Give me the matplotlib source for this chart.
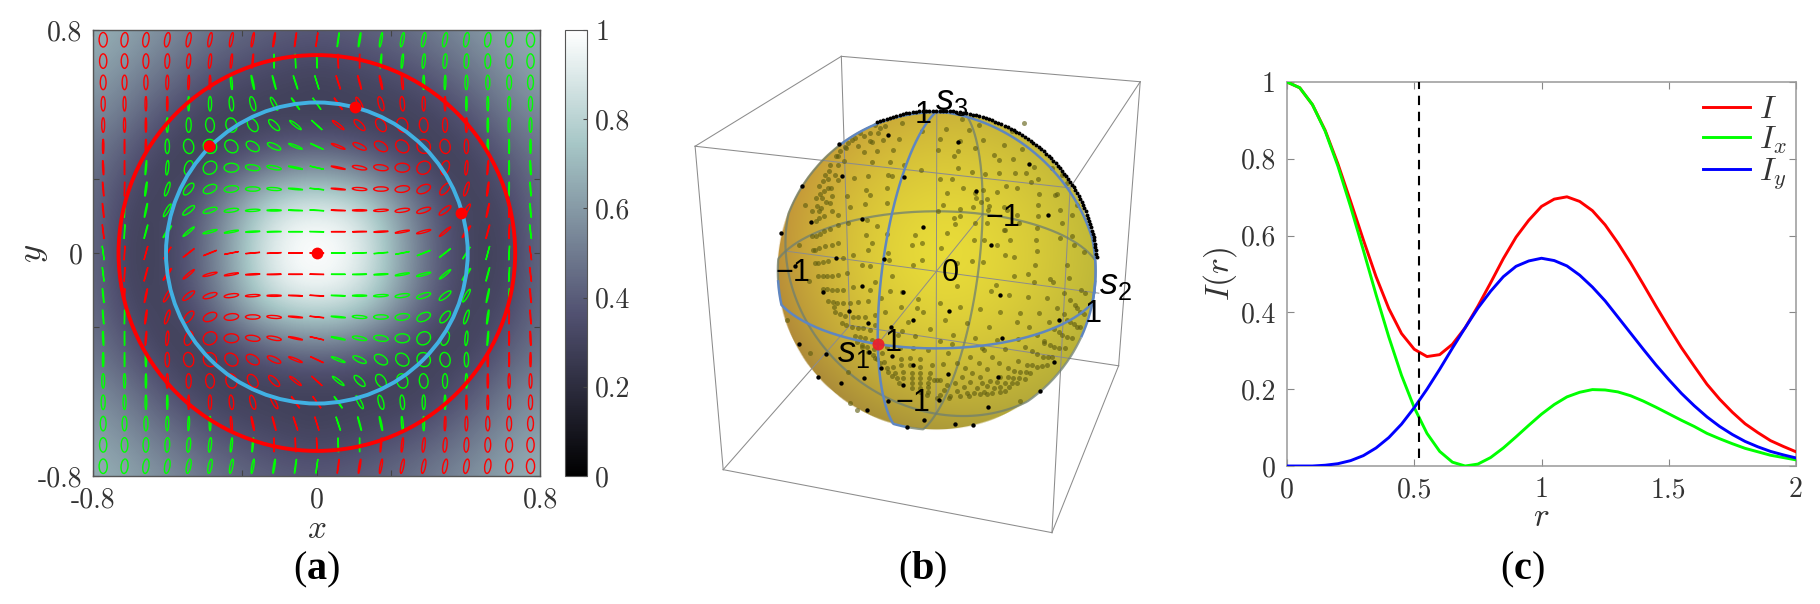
import numpy as np
import matplotlib
matplotlib.use("Agg")
import matplotlib.pyplot as plt
from matplotlib.patches import Ellipse, Circle

# ---------- data ----------
GRID = np.linspace(-0.765, 0.765, 21)
HEAT_QUADRANT = [
 [1.00,.97,.85,.64,.46,.33,.29,.32,.44],
 [ .97,.94,.82,.63,.45,.33,.29,.33,.44],
 [ .82,.79,.70,.55,.40,.31,.30,.35,.45],
 [ .58,.56,.49,.40,.32,.29,.32,.39,.47],
 [ .38,.37,.34,.31,.29,.31,.36,.44,.50],
 [ .29,.29,.29,.29,.31,.35,.42,.50,.55],
 [ .29,.30,.31,.33,.36,.42,.48,.55,.60],
 [ .33,.34,.36,.39,.43,.48,.54,.60,.64],
 [ .39,.40,.42,.45,.49,.54,.59,.64,.67],
]
TILT = [
 [ 82, 82, 81, 80, 79, 79, 79, 80, 82, 84, 90],
 [-87,-88, 90, 85, 84, 84, 85, 87, 89, 90, 90],
 [-73,-72,-75,-78,-85, 90, 88, 89, 90, 90, 90],
 [-55,-55,-62,-75,-85, 90, 90, 90, 90, 90, 90],
 [-42,-38,-45,-58,-75,-85, 90, 90, 90, 90, 90],
 [-25,-22,-25,-32,-42,-60,-80, 90, 90, 90,-90],
 [-13,-12,-11, -8,  0, 38, 72, 85, 85, 90,-87],
 [ -6, -5, -4,  0,  7, 25, 50, 72, 82, 89,-85],
 [ -3, -2,  0,  3,  8, 18, 38, 60, 78, 88,-84],
 [ -1,  0,  1,  3, 10, 15, 40, 55, 75, 87,-83],
 [  0,  1,  3,  5, 11, 22, 38, 58, 75, 87,-82],
]
RATIO = [
 [.02,.05,.10,.14,.20,.25,.30,.36,.42,.48,.56],
 [.02,.02,.02,.08,.13,.20,.27,.33,.40,.46,.50],
 [.02,.04,.06,.10,.12,.12,.12,.20,.28,.33,.40],
 [.02,.06,.25,.35,.30,.22,.12,.10,.12,.20,.28],
 [.02,.18,.40,.62,.75,.60,.35,.15,.10,.15,.20],
 [.02,.15,.35,.60,.80,.90,.70,.30,.10,.05,.10],
 [.02,.10,.25,.40,.62,.85,.55,.20,.08,.04,.08],
 [.02,.08,.20,.30,.45,.55,.45,.25,.10,.03,.05],
 [.02,.05,.10,.15,.25,.32,.32,.22,.08,.03,.05],
 [.02,.02,.05,.08,.12,.15,.15,.12,.05,.02,.03],
 [.01,.01,.01,.02,.02,.03,.03,.03,.02,.01,.01],
]
COLOURS = [
 "rrrrrrrrrrrgggggggggg",
 "rrrrrrrrgggrrgggggggg",
 "rrrrrrgggggrrrrgggggg",
 "rrrrgggggggrrrrrrgggg",
 "rrrggggggggrrrrrrrggg",
 "rrrggggggggrrrrrrrggg",
 "rrgggggggggrrrrrrrrgg",
 "rrgggggggggrrrrrrrrgg",
 "rggggggggggrrrrrrrrrg",
 "rggggggggggrrrrrrrrrg",
 "grrrrrrrrrrgggggggggr",
 "grrrrrrrrrrgggggggggr",
 "grrrrrrrrrrgggggggggr",
 "ggrrrrrrrrrggggggggrr",
 "ggrrrrrrrrrggggggggrr",
 "gggrrrrrrrrgggggggrrr",
 "gggrrrrrrrrgggggggrrr",
 "ggggrrrrrrrggggggrrrr",
 "ggggggrrrrrgggggrrrrr",
 "ggggggggrrrggrrrrrrrr",
 "gggggggggggrrrrrrrrrr",
]
MARK_X = [0.0, 0.135, 0.517, -0.385]
MARK_Y = [0.0, 0.524, 0.142, 0.383]
RADIUS_BLUE = 0.54
RADIUS_RED = 0.71

R_VALUES = np.arange(41) * 0.05
I_X = [1.000,.985,.941,.872,.781,.675,.562,.446,.336,.236,.152,.085,.038,.010,.000,.005,.022,.047,.076,.106,
       .135,.160,.180,.192,.199,.198,.193,.183,.169,.153,.136,.119,.103,.085,.071,.058,.046,.037,.028,.022,.016]
I_Y = [.000,.000,.000,.002,.006,.014,.027,.047,.074,.109,.152,.200,.252,.307,.360,.411,.455,.493,.520,.534,
       .541,.535,.521,.497,.466,.430,.388,.346,.304,.263,.225,.189,.157,.128,.103,.082,.064,.050,.038,.029,.021]
I_TOTAL = [1.000,.985,.941,.874,.787,.689,.589,.493,.410,.345,.304,.285,.290,.317,.360,.416,.477,.540,.596,.640,
           .676,.695,.701,.689,.665,.628,.581,.529,.473,.416,.361,.308,.260,.213,.174,.140,.110,.087,.066,.051,.037]
DASHED_R = 0.52

# Poincare-sphere dots as read from four enlarged views of the sphere (units: 1/3 reference pixel
# measured from each view's corner). "DIM" dots are seen through the sphere, "DARK" dots are on its near side.
VIEW_CORNERS = [(775, 108), (937, 108), (775, 270), (937, 270)]
DIM_DOTS = [
 [(300,50),(315,60),(330,55),(380,45),(440,70),(285,75),(310,75),(325,95),(372,93),(255,75),(268,85),(240,90),
  (230,95),(285,100),(292,103),(355,125),(218,105),(210,118),(250,115),(305,128),(195,130),(212,120),(268,133),
  (182,145),(190,145),(345,162),(290,163),(208,160),(165,170),(190,170),(438,185),(388,170),(163,190),(150,200),
  (180,200),(280,203),(340,202),(350,203),(237,210),(145,218),(160,212),(190,215),(133,235),(160,240),(168,240),
  (335,240),(272,245),(284,260),(148,250),(135,258),(122,270),(140,270),(172,265),(215,265),(90,290),(335,285),
  (270,288),(165,285),(152,283),(125,295),(138,300),(225,298),(112,310),(133,310),(172,310),(148,325),(133,330),
  (122,340),(190,322),(275,335),(220,345),(190,352),(165,362),(148,370),(134,377),(122,385),(112,385),(272,380),
  (335,378),(420,380),(305,355),(290,405),(190,405),(170,410),(150,415),(132,420),(120,425),(115,427),(72,410),
  (235,440),(340,435),(410,410),(280,425),(205,450),(160,460),(145,462),(130,465),(120,465),(262,470),(342,455),
  (440,455),(415,470),(285,475),(440,405)],
 [(27,62),(8,92),(70,100),(62,128),(50,143),(2,127),(115,120),(138,97),(97,65),(125,50),(75,33),(202,110),(255,122),
  (185,157),(170,140),(228,153),(290,178),(62,180),(105,193),(145,197),(185,195),(235,195),(268,195),(283,222),
  (303,213),(10,213),(45,213),(78,240),(138,245),(180,252),(208,233),(240,240),(30,255),(115,255),(118,270),
  (150,272),(132,283),(155,295),(153,305),(108,298),(70,303),(18,290),(2,310),(305,258),(355,260),(360,258),
  (303,292),(370,305),(303,325),(50,330),(70,325),(200,298),(210,305),(240,322),(205,365),(200,365),(245,345),
  (150,345),(115,345),(55,348),(375,345),(300,360),(370,390),(405,320),(30,375),(110,397),(142,397),(180,410),
  (218,397),(298,395),(410,410),(440,432),(300,428),(232,448),(203,440),(138,462),(105,458),(12,420),(60,465),
  (295,472),(390,470),(405,385),(390,225),(225,70),(262,45),(345,180),(375,200),(420,290)],
 [(130,17),(145,17),(155,17),(170,17),(190,15),(215,10),(102,33),(350,17),(300,37),(145,57),(155,57),(170,60),
  (185,60),(205,60),(235,50),(345,63),(285,60),(160,92),(173,95),(187,98),(205,100),(225,98),(250,97),(280,92),
  (318,85),(380,67),(428,87),(425,113),(178,112),(180,127),(195,133),(210,138),(235,140),(250,140),(270,140),
  (300,135),(330,125),(378,112),(400,157),(445,125),(35,150),(200,160),(213,165),(230,172),(248,175),(265,175),
  (285,180),(300,165),(380,182),(420,197),(465,178),(240,198),(255,200),(270,205),(290,210),(370,195),(245,215),
  (262,225),(275,230),(298,237),(322,250),(335,232),(375,235),(415,235),(460,240),(262,232),(280,245),(295,255),
  (307,268),(328,275),(378,268),(405,265),(435,268),(300,265),(315,278),(335,293),(355,290),(378,285),(405,285),
  (435,290),(470,285),(340,305),(360,310),(385,305),(410,310),(435,310),(465,310),(352,318),(365,325),(385,325),
  (410,325),(435,325),(462,325),(372,340),(410,340),(435,340),(460,340),(410,355),(435,355),(458,352),(435,365),
  (460,365),(455,375),(105,248),(218,305),(225,398),(245,420),(478,330)],
 [(230,17),(272,12),(290,35),(340,27),(348,35),(380,70),(395,25),(433,60),(445,70),(60,48),(177,45),(162,62),
  (215,75),(272,82),(330,83),(400,90),(415,105),(8,100),(70,110),(130,118),(190,125),(250,130),(305,128),(360,115),
  (420,115),(430,125),(440,132),(380,133),(25,150),(90,160),(155,170),(240,155),(275,170),(335,155),(390,150),
  (400,157),(410,163),(420,170),(430,170),(47,195),(115,205),(180,210),(242,207),(300,195),(350,178),(365,185),
  (375,195),(390,200),(405,203),(320,212),(322,218),(338,225),(350,230),(365,235),(385,235),(18,283),(45,222),
  (8,213),(32,250),(98,260),(135,235),(140,240),(205,238),(265,230),(285,243),(300,253),(318,260),(332,262),
  (345,262),(60,280),(125,280),(165,262),(185,278),(242,272),(270,285),(285,285),(300,290),(315,288),(330,285),
  (85,295),(150,298),(212,293),(232,302),(250,307),(268,307),(280,310),(75,320),(105,310),(130,322),(190,320),
  (212,320),(228,325),(245,325),(265,328),(0,330),(10,330),(55,340),(100,335),(135,340),(160,332),(180,335),
  (205,338),(225,340),(240,338),(30,345),(80,350),(120,355),(150,348),(170,355),(190,350),(215,352),(20,360),
  (60,362),(90,370),(112,368),(140,365),(165,368),(190,365),(205,362),(10,375),(40,378),(68,378),(95,378),
  (130,372),(150,372),(0,385),(35,385),(250,392)],
]
DARK_DOTS = [
 [(340,80),(193,107),(200,203),(388,206),(82,235),(262,333),(108,342),(445,356),(18,376),(183,450),(60,475),(328,453)],
 [(62,101),(277,168),(118,248),(332,322),(162,411)],
 [(143,67),(260,48),(383,67),(222,122),(280,160),(413,150),(348,172),(283,247),(350,258),(414,285),(385,344),(72,222),
  (152,253),(130,322),(267,324),(198,340),(277,420),(447,450),(397,472),(340,393),(318,295)],
 [(188,75),(35,122),(350,275),(33,313),(182,320),(310,362),(5,390),(152,410),(55,461),(107,465),(365,150),(195,205)],
]

# ---------- style ----------
W, H = 1820, 604
plt.rcParams.update({
    "font.family": "cmr10", "axes.unicode_minus": False, "axes.formatter.use_mathtext": True,
    "mathtext.fontset": "cm",
    "mathtext.bf": "Liberation Serif:bold",
    "mathtext.rm": "Liberation Sans",
    "mathtext.it": "Liberation Sans:italic",
})
INK = "#333333"
fig = plt.figure(figsize=(W / 100, H / 100), dpi=100)

def box(l, t, r, b):
    return [l / W, 1 - b / H, (r - l) / W, (b - t) / H]

# ---------- panel b (full-figure pixel canvas) ----------
ov = fig.add_axes([0, 0, 1, 1], zorder=0)
CUBE = np.array([[s1, s2, s3] for s1 in (1, -1) for s2 in (1, -1) for s3 in (1, -1)], float)
CAM = np.array([[-162.5238477, 121.3645756, -54.4137403, 936.4008],
                [32.0109412, 10.8813504, -166.6255543, 271.3345026],
                [-0.1183929, -0.0373691, -0.0585182, 1.0]])
CAM_POS = -np.linalg.solve(CAM[:, :3], CAM[:, 3])
SC = (936.7, 271.0); SR = 159.5; LIGHT = (946.7, 253.0)

def project(p):
    p = np.atleast_2d(p)
    h = CAM @ np.c_[p, np.ones(len(p))].T
    return h[0] / h[2], h[1] / h[2]

def project_on_disc(p):
    x, y = project(p)
    dx, dy = x - SC[0], y - SC[1]
    k = np.minimum(1, (SR - .6) / np.maximum(np.hypot(dx, dy), 1e-6))
    return SC[0] + k * dx, SC[1] + k * dy

def view_points(groups):
    return np.array([(c[0] + a / 3, c[1] + b / 3) for c, g in zip(VIEW_CORNERS, groups) for a, b in g]).T

yy, xx = np.mgrid[SC[1]-SR-2:SC[1]+SR+2:340j, SC[0]-SR-2:SC[0]+SR+2:340j]
d = np.hypot(xx - SC[0], yy - SC[1])
t = np.clip(np.hypot(xx - LIGHT[0], yy - LIGHT[1]) / (SR * 1.12), 0, 1) ** 1.6
side = np.clip((xx - SC[0]) / SR * .5 + .5, 0, 1)[..., None]
upleft = np.clip((SC[1] - yy) / SR * .5 + .5, 0, 1)[..., None] * (1 - side)
edge = (1 - side) * np.array([.65, .52, .22]) + side * np.array([.70, .68, .22]) + upleft * np.array([.14, .04, .0])
rgb = (1 - t[..., None]) * np.array([.91, .86, .22]) + t[..., None] * edge
alpha = np.clip(SR - d + .5, 0, 1)
ov.imshow(np.dstack([np.clip(rgb, 0, 1), alpha]), extent=(xx.min(), xx.max(), yy.max(), yy.min()), zorder=1, aspect="auto")

edges = [(a, b) for a in range(8) for b in range(a+1, 8) if np.sum(CUBE[a] != CUBE[b]) == 1]
for a, b in edges:
    ov.plot(*project(np.array([CUBE[a], CUBE[b]])), color="#8c8c8c", lw=.75, zorder=3)
for ax_i in range(3):
    seg = np.zeros((2, 3)); seg[0, ax_i] = -1; seg[1, ax_i] = 1
    ov.plot(*project(seg), color="#8c8c8c", lw=.7, zorder=3)

ang = np.radians(np.arange(0, 360.5, 1.0))
for i, j in [(0, 1), (0, 2), (1, 2)]:
    pts = np.zeros((len(ang), 3)); pts[:, i] = np.cos(ang); pts[:, j] = np.sin(ang)
    front = np.sum(pts * (CAM_POS - pts), axis=1) > 0
    x, y = project_on_disc(pts)
    ov.plot(np.where(front, np.nan, x), np.where(front, np.nan, y), color="#6f7f70", alpha=.75, lw=1.6, zorder=4)
    ov.plot(np.where(front, x, np.nan), np.where(front, y, np.nan), color="#5f86c0", lw=1.8, zorder=6)

ov.scatter(*view_points(DIM_DOTS), s=13, color="#5e5c10", alpha=.62, lw=0, zorder=5)
ov.scatter(*view_points(DARK_DOTS), s=10, color="black", lw=0, zorder=7)
RIM_ANGLES = np.arange(5, 112, 1.2)
ov.scatter(SC[0] + (SR+1) * np.cos(np.radians(RIM_ANGLES)), SC[1] - (SR+1) * np.sin(np.radians(RIM_ANGLES)),
           s=8, color="black", lw=0, zorder=7)
ov.scatter(*project([[1, 0, 0]]), s=75, color="#ee1c25", lw=0, zorder=8, alpha=.9)

SANS = dict(family="Liberation Sans", color="black", ha="center", va="center", size=22, zorder=9)
for (px, py, s) in [(923, 115, "1"), (1003, 218, "\u22121"), (950, 273, "0"), (793, 273, "\u22121"),
                    (1093, 314, "1"), (893, 343, "1"), (913, 403, "\u22121")]:
    ov.text(px, py, s, **SANS)
for (px, py, s) in [(952, 100, r"$s_3$"), (1115, 285, r"$s_2$"), (853, 352, r"$s_1$")]:
    ov.text(px, py, s, math_fontfamily="custom", **{**SANS, "size": 26})

def caption(px, py, letter):
    ov.text(px, py, "(" + r"$\mathbf{" + letter + "}$" + ")", family="Liberation Serif", size=29, color="black",
            ha="center", va="center", math_fontfamily="custom")
caption(317, 570, "a"); caption(923, 570, "b"); caption(1522, 570, "c")
ov.set_xlim(0, W); ov.set_ylim(H, 0); ov.axis("off")

# ---------- panel a ----------
ax = fig.add_axes(box(93.4, 30, 540.3, 476), zorder=2)
half = np.array(HEAT_QUADRANT)
row = np.c_[half[:, :0:-1], half]
full = np.r_[row[:0:-1], row]
im = ax.imshow(full, extent=(-.85, .85, -.85, .85), cmap="bone", vmin=0, vmax=1, origin="lower",
               interpolation="bicubic", aspect="auto", zorder=0)
ax.set_xlim(-.8, .8); ax.set_ylim(-.8, .8)
RED, GREEN = "#ff0000", "#00ff00"
for jy, yv in enumerate(GRID[::-1]):
    for jx, xv in enumerate(GRID):
        ax_k, ay_k = abs(jx - 10), abs(jy - 10)
        rat = RATIO[10 - ay_k][ax_k]
        ax.add_patch(Ellipse((xv, yv), .052, .052 * rat, angle=TILT[10 - ay_k][ax_k], fill=False, lw=1.0,
                             ec=RED if COLOURS[jy][jx] == "r" else GREEN, zorder=2))
ax.add_patch(Circle((0, 0), RADIUS_RED, fill=False, ec="#ff0000", lw=2.8, zorder=3))
ax.add_patch(Circle((0, 0), RADIUS_BLUE, fill=False, ec="#41b1e3", lw=2.8, zorder=3))
ax.plot(MARK_X, MARK_Y, "o", color="#ff0000", ms=8.5, mew=0, zorder=4)
ax.set_xticks([-0.8, 0, 0.8], ["-0.8", "0", "0.8"])
ax.set_yticks([-0.8, 0, 0.8], ["-0.8", "0", "0.8"])
ax.set_xticks([-0.8/3, 0.8/3], minor=True)
ax.set_yticks([-0.8/3, 0.8/3], minor=True)
ax.tick_params(which="both", direction="in", top=True, right=True, length=4, width=.8, color="#444444",
               labelsize=20, labelcolor=INK, pad=8)
for s in ax.spines.values():
    s.set_color("#555555"); s.set_linewidth(1.0)
ax.set_xlabel(r"$x$", fontsize=24, color=INK, labelpad=1)
ax.set_ylabel(r"$y$", fontsize=25, color=INK, labelpad=-9)

cax = fig.add_axes(box(564.5, 30, 587, 476), zorder=2)
cb = fig.colorbar(im, cax=cax, ticks=[0, .2, .4, .6, .8, 1])
cb.ax.set_yticklabels(["0", "0.2", "0.4", "0.6", "0.8", "1"])
cb.ax.tick_params(direction="in", length=3, width=.8, color="#444444", labelsize=20, labelcolor=INK, pad=6)
cb.outline.set_edgecolor("#555555")

# ---------- panel c ----------
axc = fig.add_axes(box(1287, 82, 1796, 466), zorder=2)
axc.plot(R_VALUES, I_TOTAL, color="#ff0000", lw=2.1, label=r"$I$", zorder=3)
axc.plot(R_VALUES, I_X, color="#00ff00", lw=2.1, label=r"$I_x$", zorder=4)
axc.plot(R_VALUES, I_Y, color="#0000ff", lw=2.1, label=r"$I_y$", zorder=5)
axc.plot([DASHED_R, DASHED_R], [0.02, 1], color="black", lw=1.5, dashes=(4.5, 3.2), zorder=6)
axc.set_xlim(0, 2); axc.set_ylim(0, 1)
axc.set_xticks([0, .5, 1, 1.5, 2], ["0", "0.5", "1", "1.5", "2"])
axc.set_yticks([0, .2, .4, .6, .8, 1], ["0", "0.2", "0.4", "0.6", "0.8", "1"])
axc.tick_params(direction="in", top=True, right=True, length=5, width=.8, color="#888888",
                labelsize=20, labelcolor=INK, pad=8)
for s in axc.spines.values():
    s.set_color("#999999"); s.set_linewidth(1.1)
axc.set_xlabel(r"$r$", fontsize=24, color=INK, labelpad=0)
axc.set_ylabel(r"$I(r)$", fontsize=24, color=INK, labelpad=1)
leg = axc.legend(loc="upper left", bbox_to_anchor=(.818, .965), frameon=False, fontsize=23, handlelength=1.45,
                 handletextpad=.3, labelspacing=.02, borderpad=0, borderaxespad=0)
for t_ in leg.get_texts():
    t_.set_color(INK)

fig.savefig("out.png", dpi=100)
